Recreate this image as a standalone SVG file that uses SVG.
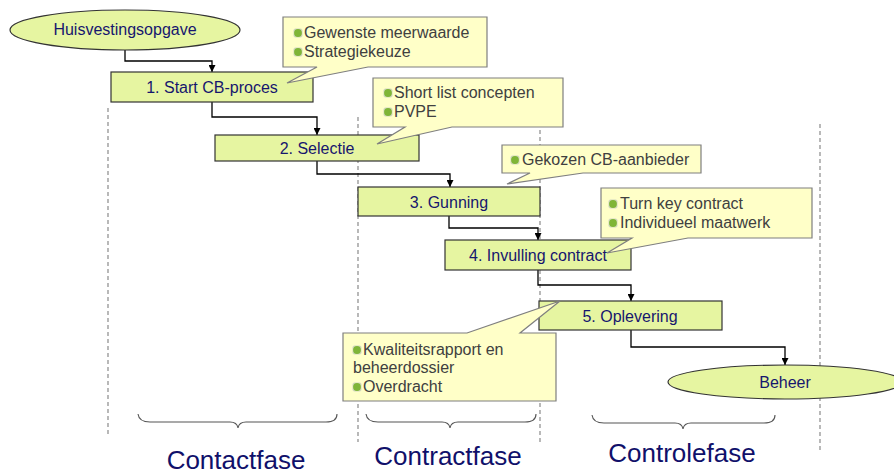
<svg xmlns="http://www.w3.org/2000/svg" xmlns:xlink="http://www.w3.org/1999/xlink" width="894" height="474" viewBox="0 0 894 474">
<defs>
<style>
.box{fill:#e6f5a1;stroke:#333;stroke-width:1.2}
.ntext{font-family:"Liberation Sans",Arial,sans-serif;font-size:16px;fill:#16166e;text-anchor:middle}
.call{fill:#ffffc8;stroke:#7f7f7f;stroke-width:1.2}
.ctext{font-family:"Liberation Sans",Arial,sans-serif;font-size:16px;fill:#404040}
.conn{fill:none;stroke:#000;stroke-width:1.3}
.dash{stroke:#8a8a8a;stroke-width:1.2;stroke-dasharray:4 3;fill:none}
.brace{fill:none;stroke:#555;stroke-width:1.1}
.phase{font-family:"Liberation Sans",Arial,sans-serif;font-size:26px;fill:#10106a;text-anchor:middle}
</style>
<marker id="arr" viewBox="0 0 10 10" refX="10" refY="5" markerWidth="7" markerHeight="7" markerUnits="userSpaceOnUse" orient="auto">
<path d="M0,0 L10,5 L0,10 z" fill="#000"/>
</marker>
<g id="bul">
<rect x="-4.5" y="-4.5" width="9" height="9" rx="2" fill="#d2d8bf"/>
<circle cx="0" cy="0" r="3.9" fill="#7fb537"/>
</g>
</defs>
<rect width="894" height="474" fill="#fff"/>

<g id="dashes">
<line class="dash" x1="108" y1="108" x2="108" y2="434"/>
<line class="dash" x1="358" y1="117" x2="358" y2="442"/>
<line class="dash" x1="540" y1="130" x2="540" y2="442"/>
<line class="dash" x1="820" y1="124" x2="820" y2="450"/>
</g>

<g id="connectors">
<path class="conn" d="M125,50 V61 H212 V72" marker-end="url(#arr)"/>
<path class="conn" d="M212,102 V117 H317 V135" marker-end="url(#arr)"/>
<path class="conn" d="M317,161 V174 H450 V187" marker-end="url(#arr)"/>
<path class="conn" d="M449,216 V228 H538 V240" marker-end="url(#arr)"/>
<path class="conn" d="M538,270 V285 H631 V301" marker-end="url(#arr)"/>
<path class="conn" d="M631,330 V347 H785 V365" marker-end="url(#arr)"/>
</g>

<g id="n-huisvesting">
<ellipse class="box" cx="125" cy="30" rx="115" ry="20"/>
<text class="ntext" x="125" y="35">Huisvestingsopgave</text>
</g>
<g id="n-start">
<rect class="box" x="111" y="72" width="202" height="30"/>
<text class="ntext" x="212" y="93">1. Start CB-proces</text>
</g>
<g id="n-selectie">
<rect class="box" x="215" y="135" width="204" height="26"/>
<text class="ntext" x="317" y="154">2. Selectie</text>
</g>
<g id="n-gunning">
<rect class="box" x="358" y="187" width="182" height="29"/>
<text class="ntext" x="449" y="208">3. Gunning</text>
</g>
<g id="n-invulling">
<rect class="box" x="445" y="240" width="186" height="30"/>
<text class="ntext" x="538" y="261">4. Invulling contract</text>
</g>
<g id="n-oplevering">
<rect class="box" x="539" y="301" width="183" height="29"/>
<text class="ntext" x="630" y="322">5. Oplevering</text>
</g>
<g id="n-beheer">
<ellipse class="box" cx="785" cy="382" rx="117" ry="17"/>
<text class="ntext" x="785" y="388">Beheer</text>
</g>

<g id="c-start">
<path class="call" d="M283,17 H487 V67 H368 L287,83 L317,67 H283 Z"/>
<use xlink:href="#bul" href="#bul" x="298" y="33"/>
<use xlink:href="#bul" href="#bul" x="298" y="52"/>
<text class="ctext" x="304" y="38">Gewenste meerwaarde</text>
<text class="ctext" x="304" y="57">Strategiekeuze</text>
</g>
<g id="c-selectie">
<path class="call" d="M373,78 H563 V127 H452 L377,144 L405,127 H373 Z"/>
<use xlink:href="#bul" href="#bul" x="388" y="93"/>
<use xlink:href="#bul" href="#bul" x="388" y="112"/>
<text class="ctext" x="394" y="98">Short list concepten</text>
<text class="ctext" x="394" y="117">PVPE</text>
</g>
<g id="c-gunning">
<path class="call" d="M502,145 H701 V173 H583 L507,184 L530,173 H502 Z"/>
<use xlink:href="#bul" href="#bul" x="515" y="160"/>
<text class="ctext" x="522" y="165">Gekozen CB-aanbieder</text>
</g>
<g id="c-invulling">
<path class="call" d="M601,188 H812 V238 H688 L607,253 L632,238 H601 Z"/>
<use xlink:href="#bul" href="#bul" x="613" y="204"/>
<use xlink:href="#bul" href="#bul" x="613" y="223"/>
<text class="ctext" x="620" y="209">Turn key contract</text>
<text class="ctext" x="620" y="228">Individueel maatwerk</text>
</g>
<g id="c-oplevering">
<path class="call" d="M343,333 H467 L560,301 L520,333 H556 V401 H343 Z"/>
<use xlink:href="#bul" href="#bul" x="357" y="350"/>
<use xlink:href="#bul" href="#bul" x="357" y="387"/>
<text class="ctext" x="363" y="355">Kwaliteitsrapport en</text>
<text class="ctext" x="353" y="373">beheerdossier</text>
<text class="ctext" x="363" y="392">Overdracht</text>
</g>

<g id="phases">
<path class="brace" d="M138,414 Q139,422 150,422 H230 Q237,422 238,428 Q239,422 246,422 H326 Q337,422 337,414"/>
<path class="brace" d="M366,414 Q367,422 378,422 H442 Q449,422 450,428 Q451,422 458,422 H525 Q536,422 536,414"/>
<path class="brace" d="M592,415 Q593,423 604,423 H675 Q682,423 683,429 Q684,423 691,423 H764 Q775,423 775,415"/>
<text class="phase" x="236" y="469">Contactfase</text>
<text class="phase" x="448" y="465">Contractfase</text>
<text class="phase" x="682" y="462">Controlefase</text>
</g>
</svg>
